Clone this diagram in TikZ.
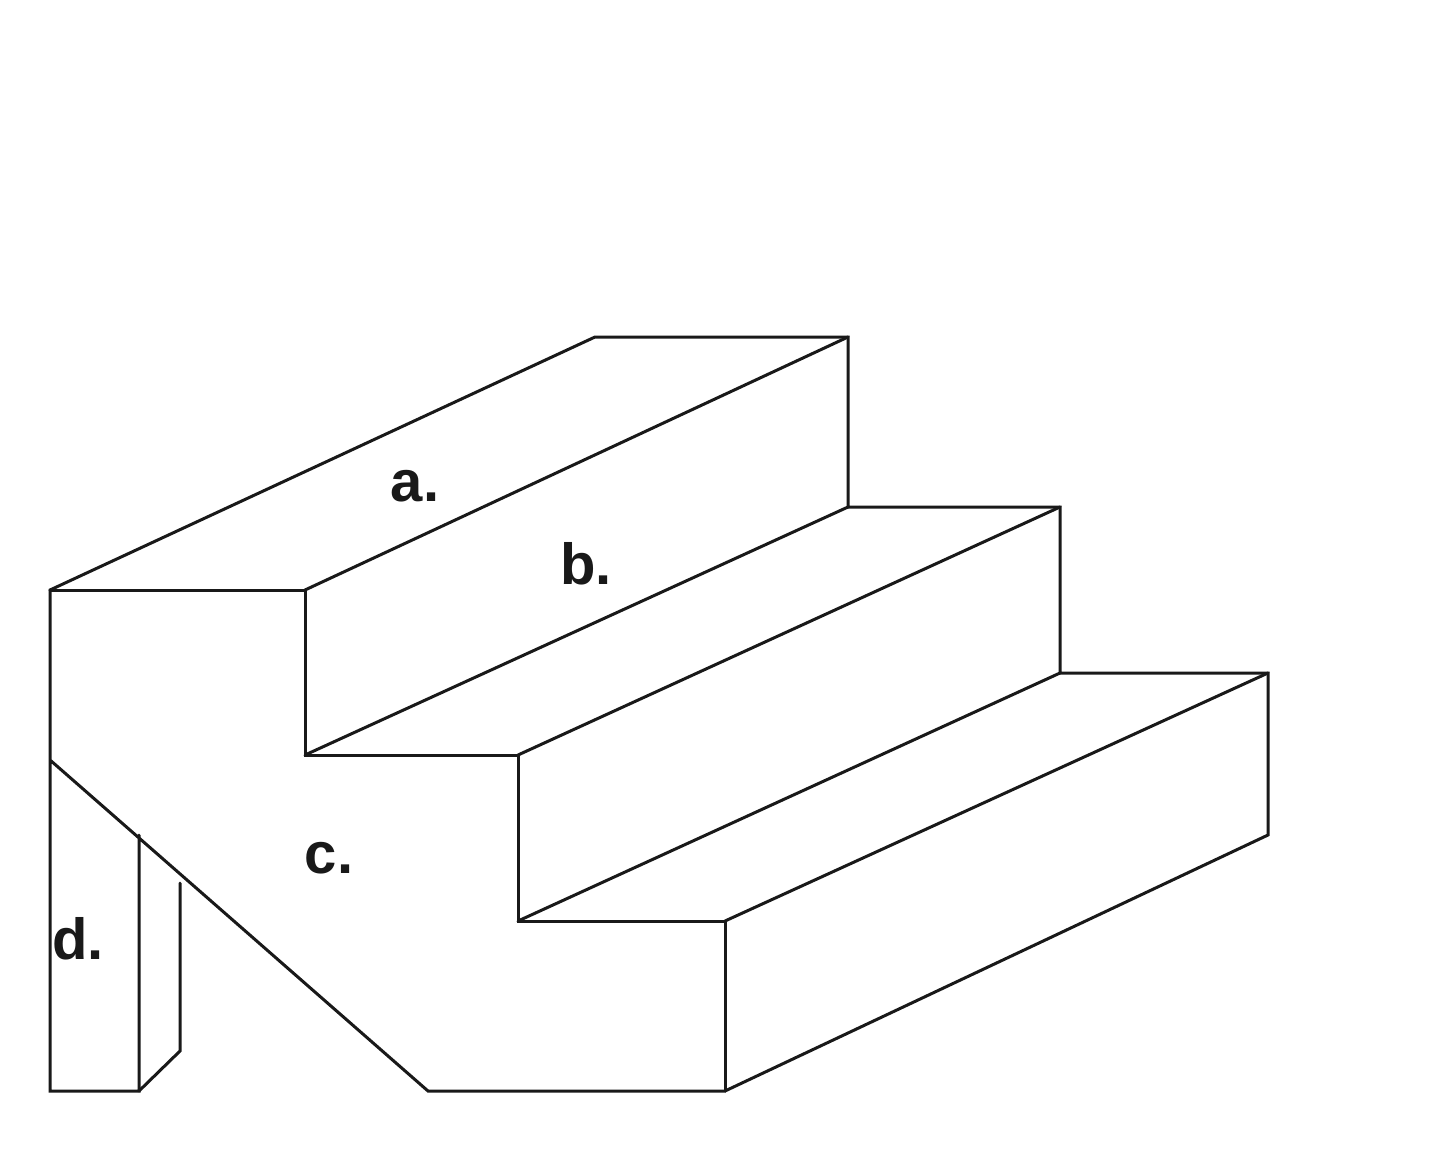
\documentclass[tikz,border=0pt]{standalone}
\usepackage{fontspec}
\setmainfont{Liberation Sans}
\tikzset{edge/.style={draw=black!90,line width=3pt,line join=miter,line cap=round},
lab/.style={font=\fontsize{58}{58}\selectfont\bfseries,text=black!90,inner sep=0pt}}
\begin{document}
\begin{tikzpicture}[x=1pt,y=-1pt]
\useasboundingbox[fill=white] (0,0) rectangle (1440,1149);
\coordinate (A) at (50,590);\coordinate (B) at (305,590);\coordinate (C) at (595,337);\coordinate (D) at (848,337);
\coordinate (E) at (848,507);\coordinate (F) at (1060,507);\coordinate (G) at (1060,673);\coordinate (H) at (1268,673);
\coordinate (I) at (1268,835);\coordinate (J) at (725,1091);\coordinate (K) at (725,921);\coordinate (L) at (518,921);
\coordinate (M) at (518,755);\coordinate (N) at (305,755);\coordinate (P) at (428,1091);\coordinate (Q) at (50,760);
\coordinate (R) at (50,1091);\coordinate (S) at (139,1091);\coordinate (T) at (139,835);
\coordinate (U) at (180,1051);\coordinate (V) at (180,883);
\draw[edge] (Q)--(A)--(C)--(D)--(E)--(F)--(G)--(H)--(I)--(J)--(P)--(Q)--(R)--(S)--(T);
\draw[edge] (A)--(B)--(N)--(M)--(L)--(K)--(J);
\draw[edge] (B)--(D);\draw[edge] (N)--(E);\draw[edge] (M)--(F);\draw[edge] (L)--(G);\draw[edge] (K)--(H);
\draw[edge] (S)--(U)--(V);
\node[lab] (a) at (415,486) {a.};
\node[lab] (b) at (586,564) {b.};
\node[lab] (c) at (329,858) {c.};
\node[lab] (d) at (78,939) {d.};
\end{tikzpicture}
\end{document}
